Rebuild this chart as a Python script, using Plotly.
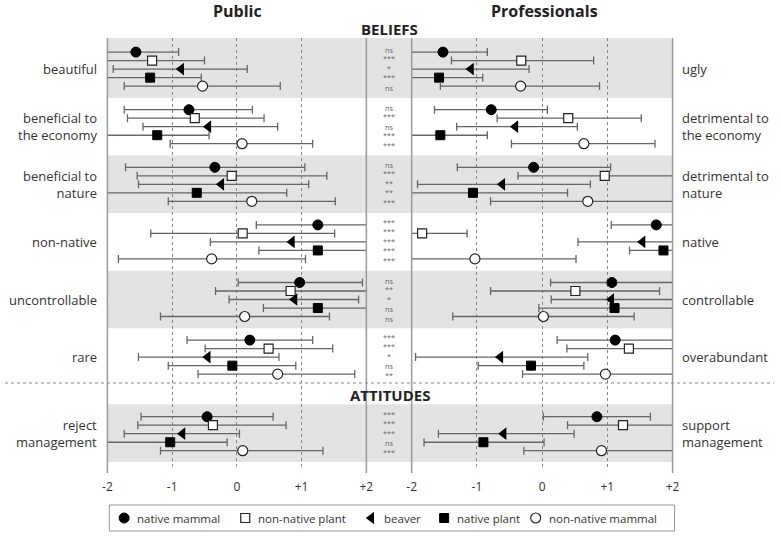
import plotly.graph_objects as go

# ---------------- data ----------------
series = ["native mammal", "non-native plant", "beaver", "native plant", "non-native mammal"]
left_labels = ["beautiful", "beneficial to<br>the economy", "beneficial to<br>nature", "non-native",
               "uncontrollable", "rare", "reject<br>management"]
right_labels = ["ugly", "detrimental to<br>the economy", "detrimental to<br>nature", "native",
                "controllable", "overabundant", "support<br>management"]
x_ticks = [-2, -1, 0, 1, 2]
x_tick_text = ["-2", "-1", "0", "+1", "+2"]

# Public: mean, lower, upper per series (7 items each); +/-2.5 = beyond the axis
pub_mean = {
    "native mammal":     [-1.56, -0.74, -0.34, 1.25, 0.97, 0.20, -0.46],
    "non-native plant":  [-1.31, -0.65, -0.08, 0.09, 0.83, 0.49, -0.37],
    "beaver":            [-0.86, -0.44, -0.24, 0.85, 0.89, -0.45, -0.84],
    "native plant":      [-1.34, -1.23, -0.62, 1.25, 1.25, -0.07, -1.03],
    "non-native mammal": [-0.53, 0.08, 0.23, -0.39, 0.12, 0.63, 0.09],
}
pub_lo = {
    "native mammal":     [-2.5, -1.74, -1.72, 0.30, 0.02, -0.77, -1.48],
    "non-native plant":  [-2.5, -1.69, -1.54, -1.33, -0.33, -0.49, -1.53],
    "beaver":            [-1.91, -1.45, -1.52, -0.41, -0.12, -1.52, -1.74],
    "native plant":      [-2.5, -2.5, -2.5, 0.34, 0.41, -1.06, -2.5],
    "non-native mammal": [-1.74, -1.03, -1.06, -1.83, -1.18, -0.60, -1.18],
}
pub_hi = {
    "native mammal":     [-0.90, 0.24, 1.05, 2.5, 1.94, 1.17, 0.56],
    "non-native plant":  [-0.50, 0.42, 1.39, 1.51, 2.5, 1.48, 0.76],
    "beaver":            [0.16, 0.63, 1.11, 2.5, 1.88, 0.65, 0.04],
    "native plant":      [-0.55, -0.43, 0.77, 2.5, 2.5, 0.91, -0.15],
    "non-native mammal": [0.67, 1.17, 1.52, 1.06, 1.43, 1.82, 1.33],
}
pro_mean = {
    "native mammal":     [-1.52, -0.78, -0.13, 1.75, 1.07, 1.12, 0.84],
    "non-native plant":  [-0.32, 0.40, 0.96, -1.84, 0.51, 1.33, 1.24],
    "beaver":            [-1.09, -0.41, -0.61, 1.54, 1.06, -0.64, -0.59],
    "native plant":      [-1.58, -1.56, -1.06, 1.86, 1.11, -0.17, -0.90],
    "non-native mammal": [-0.33, 0.64, 0.70, -1.03, 0.02, 0.97, 0.91],
}
pro_lo = {
    "native mammal":     [-2.5, -1.65, -1.30, 1.06, 0.13, 0.23, 0.02],
    "non-native plant":  [-1.39, -0.69, -0.37, -2.5, -0.79, 0.38, 0.39],
    "beaver":            [-2.5, -1.31, -1.91, 0.55, 0.14, -1.94, -1.59],
    "native plant":      [-2.5, -2.5, -2.5, 1.34, -0.05, -0.98, -1.81],
    "non-native mammal": [-1.56, -0.47, -0.79, -2.5, -1.37, -0.30, -0.28],
}
pro_hi = {
    "native mammal":     [-0.84, 0.08, 1.05, 2.5, 2.5, 2.5, 1.66],
    "non-native plant":  [0.79, 1.52, 2.5, -1.15, 1.80, 2.5, 2.5],
    "beaver":            [-0.20, 0.54, 0.74, 2.5, 2.5, 0.70, 0.49],
    "native plant":      [-0.91, -0.84, 0.39, 2.5, 2.5, 0.64, 0.03],
    "non-native mammal": [0.88, 1.73, 2.5, 0.52, 1.41, 2.5, 2.5],
}
# significance per item (rows) per series
signif = [
    ["ns", "***", "*", "***", "ns"],
    ["ns", "***", "ns", "***", "***"],
    ["ns", "***", "**", "**", "***"],
    ["***", "***", "***", "***", "***"],
    ["ns", "**", "*", "ns", "ns"],
    ["***", "***", "*", "ns", "**"],
    ["***", "***", "***", "ns", "***"],
]

# ---------------- layout constants ----------------
W, H = 781, 537
OFF = 0            # body margin removed via post_script
FONT = "Open Sans"
row_pos = [0, 1, 2, 3, 4, 5, 6.33]
offsets = [-0.295, -0.148, 0, 0.148, 0.295]
legend_sym_x = [121, 244, 372, 446, 539]   # layout positions of legend keys (px)
legend_y = 518
styles = {
    "native mammal":     dict(symbol="circle", size=10, color="black", line=dict(color="black", width=1)),
    "non-native plant":  dict(symbol="square", size=9, color="white", line=dict(color="#222", width=1.2)),
    "beaver":            dict(symbol="triangle-left", size=11, color="black", line=dict(color="black", width=0)),
    "native plant":      dict(symbol="square", size=9, color="black", line=dict(color="black", width=1)),
    "non-native mammal": dict(symbol="circle", size=10, color="white", line=dict(color="#222", width=1.2)),
}


def px_x(p):
    return (p - OFF) / W


def px_y(p):
    return 1 - (p - OFF) / H


fig = go.Figure()
for j, s in enumerate(series):
    ys = [r + offsets[j] for r in row_pos]
    for (mean, lo, hi, xa, ya) in [(pub_mean, pub_lo, pub_hi, "x", "y"),
                                    (pro_mean, pro_lo, pro_hi, "x2", "y2")]:
        m = mean[s]
        fig.add_trace(go.Scatter(
            x=m, y=ys, mode="markers", name=s, showlegend=False,
            xaxis=xa, yaxis=ya, marker=styles[s], hoverinfo="x+name",
            error_x=dict(type="data", symmetric=False,
                         array=[h - v for h, v in zip(hi[s], m)],
                         arrayminus=[v - l for v, l in zip(m, lo[s])],
                         color="#666", thickness=1.3, width=4),
        ))
    # legend key
    fig.add_trace(go.Scatter(x=[legend_sym_x[j]], y=[legend_y], mode="markers", name=s,
                             showlegend=False, xaxis="x3", yaxis="y3", marker=styles[s],
                             hoverinfo="skip"))

shapes = []
# gray bands
for (y0, y1) in [(-0.54, 0.5), (1.5, 2.5), (3.5, 4.5), (5.82, 6.82)]:
    shapes.append(dict(type="rect", xref="paper", yref="y", x0=px_x(104), x1=px_x(678), y0=y0, y1=y1,
                       fillcolor="#e3e3e3", line=dict(width=0), layer="below"))
# solid vertical frame lines
for xp in [104, 367, 413, 678]:
    shapes.append(dict(type="line", xref="paper", yref="paper", x0=px_x(xp), x1=px_x(xp),
                       y0=px_y(473), y1=px_y(38), line=dict(color="#9a9a9a", width=1.5)))
# dotted separator line between beliefs and attitudes
shapes.append(dict(type="line", xref="paper", yref="y", x0=px_x(0), x1=px_x(W), y0=5.45, y1=5.45,
                   line=dict(color="#888", width=1, dash="dot")))
# legend box
shapes.append(dict(type="rect", xref="paper", yref="paper", x0=px_x(106), x1=px_x(680),
                   y0=px_y(531), y1=px_y(505), line=dict(color="#999", width=1), fillcolor="white",
                   layer="below"))

ann = []
for i, (l, r) in enumerate(zip(left_labels, right_labels)):
    ann.append(dict(x=px_x(95), y=row_pos[i], xref="paper", yref="y", text=l, showarrow=False,
                    xanchor="right", yanchor="middle", align="right",
                    font=dict(size=13, color="#333", family=FONT)))
    ann.append(dict(x=px_x(686), y=row_pos[i], xref="paper", yref="y", text=r, showarrow=False,
                    xanchor="left", yanchor="middle", align="left",
                    font=dict(size=13, color="#333", family=FONT)))
    ann.append(dict(x=px_x(390), y=row_pos[i], xref="paper", yref="y",
                    text="<br>".join(signif[i]), showarrow=False, xanchor="center", yanchor="middle",
                    align="center", font=dict(size=7.3, color="#666", family=FONT)))
for j, s in enumerate(series):
    ann.append(dict(x=px_x(legend_sym_x[j] + 11), y=px_y(legend_y), xref="paper", yref="paper", text=s,
                    showarrow=False, xanchor="left", yanchor="middle",
                    font=dict(size=11.5, color="#333", family=FONT)))
ann.append(dict(x=px_x(236), y=px_y(11), xref="paper", yref="paper", text="<b>Public</b>", showarrow=False,
                xanchor="center", yanchor="middle", font=dict(size=16, color="#222", family=FONT)))
ann.append(dict(x=px_x(548), y=px_y(11), xref="paper", yref="paper", text="<b>Professionals</b>",
                showarrow=False, xanchor="center", yanchor="middle",
                font=dict(size=16, color="#222", family=FONT)))
ann.append(dict(x=px_x(391), y=px_y(29), xref="paper", yref="paper", text="<b>BELIEFS</b>", showarrow=False,
                xanchor="center", yanchor="middle", font=dict(size=15, color="#222", family=FONT)))
ann.append(dict(x=px_x(391), y=px_y(395), xref="paper", yref="paper", text="<b>ATTITUDES</b>",
                showarrow=False, xanchor="center", yanchor="middle",
                font=dict(size=15, color="#222", family=FONT)))

xa_common = dict(range=[-2, 2], tickvals=x_ticks, ticktext=x_tick_text, showgrid=True,
                 gridcolor="#888", griddash="dot", gridwidth=1, zeroline=False, showline=False,
                 ticks="", ticklabelstandoff=8, tickfont=dict(size=12, color="#333", family=FONT),
                 fixedrange=True)
ya_common = dict(range=[6.96, -0.54], showgrid=False, zeroline=False, showticklabels=False,
                 domain=[px_y(470), px_y(38)], fixedrange=True)

fig.update_layout(
    width=W, height=H,
    margin=dict(l=0, r=0, t=0, b=0),
    paper_bgcolor="white", plot_bgcolor="rgba(0,0,0,0)",
    xaxis=dict(domain=[px_x(104), px_x(367)], anchor="y", **xa_common),
    xaxis2=dict(domain=[px_x(413), px_x(678)], anchor="y2", **xa_common),
    yaxis=dict(anchor="x", **ya_common),
    yaxis2=dict(anchor="x2", matches="y", **ya_common),
    xaxis3=dict(domain=[0, 1], range=[OFF, W + OFF], visible=False, fixedrange=True, anchor="y3"),
    yaxis3=dict(domain=[0, 1], range=[H + OFF, OFF], visible=False, fixedrange=True, anchor="x3"),
    shapes=shapes, annotations=ann,
    showlegend=False,
    font=dict(family=FONT),
)

fig.write_html("out.html", config={"displayModeBar": False},
               post_script="document.body.style.margin='0px';document.body.style.overflow='hidden';")
